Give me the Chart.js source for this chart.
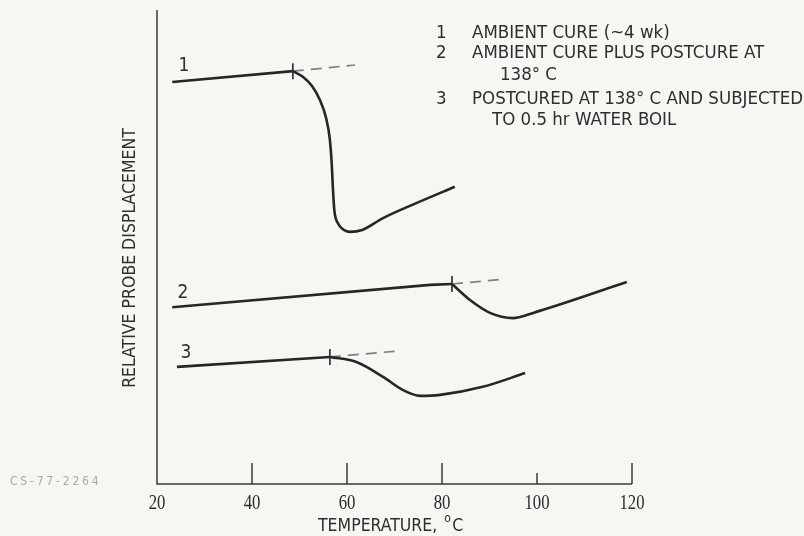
<!DOCTYPE html>
<html>
<head>
<meta charset="utf-8">
<script src="https://cdn.jsdelivr.net/npm/chart.js@4.4.1/dist/chart.umd.min.js"></script>
<style>
  html, body { margin: 0; padding: 0; background: #f6f6f3; }
  canvas { display: block; }
</style>
</head>
<body>
<canvas id="chart" width="804" height="536"></canvas>
<script>
// datos (temperatura en C, desplazamiento relativo 0-100)
const xTicks = [20, 40, 60, 80, 100, 120];
const xTickLabels = ['20', '40', '60', '80', '100', '120'];

// tramo recto hasta el punto de inicio y tramo curvo despues
const line1Temp = [23.2, 48.6];  const line1Disp = [84.8, 87.1];
const curve1Temp = [48.6, 50.7, 52.6, 54.3, 55.6, 56.4, 56.8, 57.05, 57.35, 58.1, 59.2, 60.6, 63.2, 67.6, 74.7, 82.7];
const curve1Disp = [87.1, 85.9, 84.0, 81.0, 77.2, 72.6, 67.3, 62.0, 57.6, 55.0, 53.7, 53.2, 53.6, 56.1, 59.3, 62.7];

const line2Temp = [23.2, 77.5, 82.1];  const line2Disp = [37.3, 42.0, 42.2];
const curve2Temp = [82.1, 85.9, 90.1, 94.9, 99.2, 118.9];
const curve2Disp = [42.2, 38.8, 36.1, 35.0, 36.1, 42.6];

const line3Temp = [24.2, 56.4];  const line3Disp = [24.7, 26.8];
const curve3Temp = [56.4, 62.1, 67.6, 71.8, 75.4, 79.6, 88.6, 97.5];
const curve3Disp = [26.8, 25.7, 22.6, 19.8, 18.6, 18.8, 20.5, 23.4];

// prolongaciones punteadas y marcas de inicio
const dash1Temp = [48.6, 61.7];  const dash1Disp = [87.1, 88.4];
const dash2Temp = [82.1, 92.8];  const dash2Disp = [42.2, 43.2];
const dash3Temp = [56.4, 71.2];  const dash3Disp = [26.8, 28.1];
const onsetTemp = [48.6, 82.1, 56.4];
const onsetDisp = [87.1, 42.2, 26.8];

const legendLines = [
  ['1', 'AMBIENT CURE (~4 wk)', 472],
  ['2', 'AMBIENT CURE PLUS POSTCURE AT', 472],
  ['', '138\u00B0 C', 500],
  ['3', 'POSTCURED AT 138\u00B0 C AND SUBJECTED', 472],
  ['', 'TO 0.5 hr WATER BOIL', 492]
];

const FONT = '"DejaVu Sans Condensed", "Liberation Sans Narrow", "DejaVu Sans", sans-serif';
const SERIF = '"Liberation Serif", "DejaVu Serif", serif';
const INK = '#262626';

const pts = (xs, ys) => xs.map((x, i) => ({ x, y: ys[i] }));

function straight(xs, ys) {
  return { data: pts(xs, ys), borderColor: INK, borderWidth: 2.6, pointRadius: 0, tension: 0, fill: false };
}
function curve(xs, ys) {
  return {
    data: pts(xs, ys), borderColor: INK, borderWidth: 2.6, pointRadius: 0,
    cubicInterpolationMode: 'monotone', fill: false
  };
}
function dash(xs, ys) {
  return {
    data: pts(xs, ys), borderColor: '#808080', borderWidth: 1.7, borderDash: [11, 7],
    pointRadius: 0, fill: false
  };
}

// ejes, marcas y textos
const decor = {
  id: 'decor',
  afterDraw(c) {
    const ctx = c.ctx, a = c.chartArea, xs = c.scales.x;
    ctx.save();
    ctx.strokeStyle = '#3a3a3a';
    ctx.lineWidth = 1.5;
    ctx.beginPath();
    ctx.moveTo(a.left, a.top); ctx.lineTo(a.left, a.bottom); ctx.lineTo(a.right, a.bottom);
    ctx.stroke();
    xTicks.forEach((t, i) => {
      if (i === 0) return;
      const px = xs.getPixelForValue(t);
      const len = t === 100 ? 11 : 21;
      ctx.beginPath(); ctx.moveTo(px, a.bottom); ctx.lineTo(px, a.bottom - len); ctx.stroke();
    });

    // etiquetas del eje x, tipo serif estrecho
    ctx.fillStyle = '#2a2a2a';
    ctx.font = '22px ' + SERIF;
    ctx.textAlign = 'center'; ctx.textBaseline = 'middle';
    xTicks.forEach((t, i) => {
      ctx.save();
      ctx.translate(xs.getPixelForValue(t), 503);
      ctx.scale(0.76, 1);
      ctx.fillText(xTickLabels[i], 0, 0);
      ctx.restore();
    });

    ctx.fillStyle = '#2e2e2e';
    ctx.font = '17.5px ' + FONT;
    ctx.textAlign = 'left';
    const title = 'TEMPERATURE, ';
    const tw = ctx.measureText(title).width;
    const startX = 318;
    ctx.fillText(title, startX, 526);
    ctx.font = '12px ' + FONT;
    ctx.fillText('o', startX + tw + 2, 519);
    ctx.font = '17.5px ' + FONT;
    ctx.fillText('C', startX + tw + 10, 526);

    ctx.save();
    ctx.translate(130, 258); ctx.rotate(-Math.PI / 2);
    ctx.textAlign = 'center';
    ctx.fillText('RELATIVE PROBE DISPLACEMENT', 0, 0);
    ctx.restore();

    ctx.fillStyle = '#a8a8a8';
    ctx.font = '12px ' + FONT;
    ctx.letterSpacing = '2.8px';
    ctx.textAlign = 'left';
    ctx.fillText('CS-77-2264', 10, 482);
    ctx.letterSpacing = '0px';

    // numeros sobre las curvas
    ctx.fillStyle = '#2e2e2e';
    ctx.font = '19px ' + FONT;
    ctx.textAlign = 'center';
    ctx.fillText('1', 184, 66);
    ctx.fillText('2', 183, 293);
    ctx.fillText('3', 186, 353);

    ctx.font = '18.5px ' + FONT;
    ctx.textAlign = 'left';
    const rows = [33, 53, 75, 99, 120];
    legendLines.forEach((l, i) => {
      if (l[0]) ctx.fillText(l[0], 436, rows[i]);
      ctx.fillText(l[1], l[2], rows[i]);
    });
    ctx.restore();
  }
};

new Chart(document.getElementById('chart'), {
  type: 'line',
  data: {
    datasets: [
      straight(line1Temp, line1Disp),
      curve(curve1Temp, curve1Disp),
      straight(line2Temp, line2Disp),
      curve(curve2Temp, curve2Disp),
      straight(line3Temp, line3Disp),
      curve(curve3Temp, curve3Disp),
      dash(dash1Temp, dash1Disp),
      dash(dash2Temp, dash2Disp),
      dash(dash3Temp, dash3Disp),
      {
        data: pts(onsetTemp, onsetDisp), showLine: false, pointStyle: 'line',
        rotation: 90, pointRadius: 8, borderColor: INK, borderWidth: 1.6
      }
    ]
  },
  options: {
    responsive: false,
    animation: false,
    layout: { padding: { left: 157, right: 172, top: 10, bottom: 52 } },
    plugins: { legend: { display: false }, tooltip: { enabled: false } },
    scales: {
      x: { type: 'linear', min: 20, max: 120, display: false },
      y: { min: 0, max: 100, display: false }
    }
  },
  plugins: [decor]
});
</script>
</body>
</html>
